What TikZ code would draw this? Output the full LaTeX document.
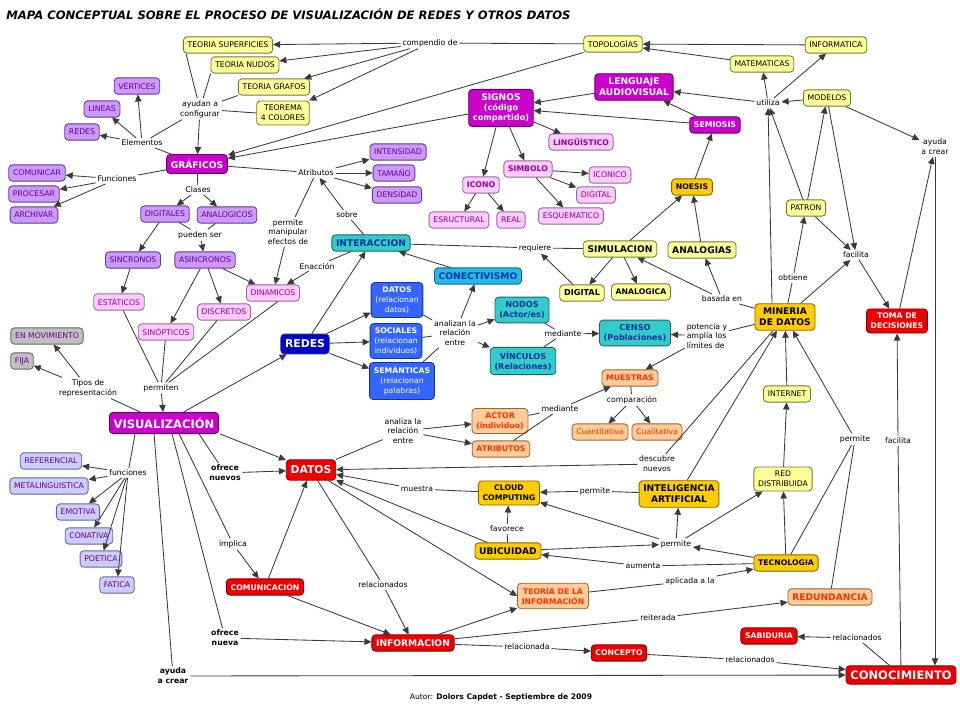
\documentclass[tikz,border=0pt]{standalone}
\usepackage{fontspec}
\setmainfont{DejaVu Sans}
\usepackage{tikz}
\usetikzlibrary{arrows.meta,calc}

\definecolor{cline}{HTML}{3A3A3A}
\definecolor{fyel}{HTML}{FFFF99}\definecolor{byel}{HTML}{77773A}
\definecolor{fmag}{HTML}{CC00CC}\definecolor{bmag}{HTML}{660066}
\definecolor{flav}{HTML}{CC99FF}\definecolor{blav}{HTML}{663399}\definecolor{tlav}{HTML}{660099}
\definecolor{fpnk}{HTML}{FFCCFF}\definecolor{bpnk}{HTML}{996699}\definecolor{tpnk}{HTML}{990099}
\definecolor{fgry}{HTML}{C0C0C0}\definecolor{bgry}{HTML}{666666}
\definecolor{fpbl}{HTML}{CCCCFF}\definecolor{bpbl}{HTML}{666699}
\definecolor{ftea}{HTML}{33CCCC}\definecolor{btea}{HTML}{1A6666}\definecolor{ttea}{HTML}{003399}
\definecolor{fcya}{HTML}{22BBEE}
\definecolor{fblu}{HTML}{3366FF}\definecolor{bblu}{HTML}{1A3399}
\definecolor{fdbl}{HTML}{0000CC}
\definecolor{fred}{HTML}{EE0000}\definecolor{bred}{HTML}{880000}
\definecolor{fpch}{HTML}{FFCC99}\definecolor{bpch}{HTML}{996633}\definecolor{tpch}{HTML}{FF3300}
\definecolor{fgld}{HTML}{FFCC00}\definecolor{bgld}{HTML}{886600}

\newcommand\ftxt{\normalfont\fontsize{5.5}{7}\selectfont}
\newcommand\fbld{\normalfont\fontsize{5.5}{7}\selectfont\bfseries}
\newcommand\fsemi{\normalfont\fontsize{5.8}{7.2}\selectfont\bfseries}
\newcommand\fmid{\normalfont\fontsize{6.5}{8}\selectfont\bfseries}
\newcommand\fbig{\normalfont\fontsize{8.2}{9.5}\selectfont\bfseries}
\newcommand\ftitle{\normalfont\fontsize{8.25}{9.5}\selectfont\bfseries\itshape}

\begin{document}
\begin{tikzpicture}[x=0.025cm,y=-0.025cm,
  cpt/.style={draw, rounded corners=2.5pt, line width=0.6pt, align=center,
    inner xsep=3pt, inner ysep=3pt, minimum height=11.5pt, font=\ftxt},
  yel/.style={cpt, fill=fyel, draw=byel},
  mag/.style={cpt, fill=fmag, draw=bmag, text=white, font=\fmid},
  lav/.style={cpt, fill=flav, draw=blav, text=tlav},
  pnk/.style={cpt, fill=fpnk, draw=bpnk, text=tpnk},
  gry/.style={cpt, fill=fgry, draw=bgry, text=tlav},
  pbl/.style={cpt, fill=fpbl, draw=bpbl, text=tlav},
  tea/.style={cpt, fill=ftea, draw=btea, text=ttea, font=\fsemi},
  cya/.style={cpt, fill=fcya, draw=btea, text=ttea, font=\fmid},
  blu/.style={cpt, fill=fblu, draw=bblu, text=white, font=\fbld},
  dbl/.style={cpt, fill=fdbl, draw=bblu, text=white},
  rdn/.style={cpt, fill=fred, draw=bred, text=white, font=\fbld},
  pch/.style={cpt, fill=fpch, draw=bpch, text=tpch, font=\fbld},
  gld/.style={cpt, fill=fgld, draw=bgld, font=\fbld},
  lnk/.style={font=\ftxt, align=center, inner sep=1.2pt},
  ln/.style={draw=cline, line width=0.6pt},
  ar/.style={ln, -{Triangle[length=5pt,width=4.6pt]}}]

\path[use as bounding box, fill=white] (0,0) rectangle (960,720);

% title and author
\node[anchor=west, inner sep=0pt, font=\ftitle] (title) at (6,14)
  {MAPA CONCEPTUAL SOBRE EL PROCESO DE VISUALIZACIÓN DE REDES Y OTROS DATOS};
\node[font=\normalfont\fontsize{5.4}{6}\selectfont] (autor) at (501,697)
  {Autor: \textbf{Dolors Capdet - Septiembre de 2009}};

% top band
\node[yel] (tsup) at (228,45) {TEORIA SUPERFICIES};
\node[yel] (tnud) at (245,65) {TEORIA NUDOS};
\node[yel] (tgra) at (274,87) {TEORIA GRAFOS};
\node[yel] (tcol) at (283,113) {TEOREMA\\4 COLORES};
\node[lnk] (comp) at (430,43) {compendio de};
\node[yel] (topo) at (613,44) {TOPOLOGÍAS};
\node[yel] (info) at (836,45) {INFORMATICA};
\node[yel] (mate) at (762,64) {MATEMATICAS};
\node[mag] (leng) at (634,87) {LENGUAJE\\AUDIOVISUAL};
\node[mag, font=\fsemi] (sign) at (501,108) {{\fmid SIGNOS}\\(código\\compartido)};
\node[lnk] (util) at (768,103) {utiliza};
\node[yel] (mode) at (827,98) {MODELOS};
\node[mag, font=\fbld] (semi) at (715,125) {SEMIOSIS};
\node[lnk] (ayca) at (935,147) {ayuda\\a crear};

% graficos
\node[lnk] (ayud) at (200,109) {ayudan a\\configurar};
\node[lav] (vert) at (137,86) {VÉRTICES};
\node[lav] (lins) at (102,109) {LINEAS};
\node[lav] (redl) at (82,132) {REDES};
\node[lnk] (elem) at (142,143) {Elementos};
\node[mag, minimum height=13.5pt] (graf) at (197,164) {GRÁFICOS};
\node[lav] (comu) at (37,173) {COMUNICAR};
\node[lav] (proc) at (34,194) {PROCESAR};
\node[lav] (arch) at (34,215) {ARCHIVAR};
\node[lnk] (func) at (117,179) {Funciones};
\node[lnk] (clas) at (198,190) {Clases};
\node[lav] (digi) at (165,214) {DIGITALES};
\node[lav] (anal) at (227,215) {ANALOGICOS};
\node[lnk] (pued) at (200,235) {pueden ser};
\node[lav] (sinc) at (133,260) {SINCRONOS};
\node[lav] (asin) at (205,260) {ASINCRONOS};
\node[pnk] (esta) at (119,302) {ESTÁTICOS};
\node[pnk] (dina) at (273,293) {DINAMICOS};
\node[pnk] (disc) at (224,312) {DISCRETOS};
\node[pnk] (sinp) at (166,332) {SINÓPTICOS};
\node[lnk] (perm) at (288,232) {permite\\manipular\\efectos de};
\node[lnk] (enac) at (317,266) {Enacción};
\node[lnk] (atri) at (316,173) {Atributos};
\node[lav] (inte) at (398,152) {INTENSIDAD};
\node[lav] (tama) at (394,173) {TAMAÑO};
\node[lav] (dens) at (397,195) {DENSIDAD};
\node[lnk] (sobr) at (347,215) {sobre};
\node[tea, font=\fmid] (intr) at (371,243) {INTERACCION};

% signos
\node[pnk, font=\fbld] (ling) at (581,142) {LINGÜÍSTICO};
\node[pnk, font=\fbld] (simb) at (528,169) {SIMBOLO};
\node[pnk] (icoc) at (610,175) {ICONICO};
\node[pnk] (digp) at (596,195) {DIGITAL};
\node[pnk, font=\fbld] (icon) at (481,185) {ICONO};
\node[pnk] (estr) at (459,220) {ESRUCTURAL};
\node[pnk] (real) at (511,220) {REAL};
\node[pnk] (esqu) at (571,216) {ESQUEMATICO};
\node[gld] (noes) at (692,187) {NOESIS};

% simulacion and mineria
\node[yel] (patr) at (806,208) {PATRON};
\node[yel, font=\fmid] (simu) at (620,249) {SIMULACION};
\node[yel, font=\fmid] (anag) at (702,250) {ANALOGIAS};
\node[yel, font=\fsemi] (digy) at (582,293) {DIGITAL};
\node[yel, font=\fbld] (anay) at (641,292) {ANALOGICA};
\node[lnk] (requ) at (535,248) {requiere};
\node[lnk] (faci) at (856,255) {facilita};
\node[lnk] (obti) at (793,278) {obtiene};
\node[lnk] (basa) at (722,299) {basada en};
\node[gld, font=\fmid] (mine) at (785,317) {MINERIA\\DE DATOS};
\node[rdn] (toma) at (897,321) {TOMA DE\\DECISIONES};
\node[lnk, align=left] (pote) at (707,336) {potencia y\\amplía los\\límites de};
\node[tea] (cens) at (635,333) {CENSO\\(Poblaciones)};

% redes
\node[cya] (cone) at (478,276) {CONECTIVISMO};
\node[blu] (datb) at (397,300) {DATOS\\{\ftxt(relacionan}\\{\ftxt datos)}};
\node[blu] (soci) at (396,341) {SOCIALES\\{\ftxt(relacionan}\\{\ftxt individuos)}};
\node[blu] (sema) at (402,381) {SEMÁNTICAS\\{\ftxt(relacionan}\\{\ftxt palabras)}};
\node[lnk] (anlz) at (455,333) {analizan la\\relación\\entre};
\node[tea] (nodo) at (522,310) {NODOS\\(Actor/es)};
\node[tea] (vinc) at (523,361) {VÍNCULOS\\(Relaciones)};
\node[lnk] (medu) at (563,334) {mediante};
\node[pch] (mues) at (630,378) {MUESTRAS};
\node[lnk] (comr) at (632,400) {comparación};
\node[pch, font=\ftxt] (cuan) at (600,432) {Cuantitativa};
\node[pch, font=\ftxt] (cual) at (657,432) {Cualitativa};
\node[lnk] (medl) at (560,409) {mediante};
\node[pch] (acto) at (500,421) {ACTOR\\(individuo)};
\node[pch] (atrb) at (501,449) {ATRIBUTOS};
\node[lnk] (anla) at (403,431) {analiza la\\relación\\entre};
\node[yel] (intn) at (787,394) {INTERNET};
\node[lnk] (desc) at (657,464) {descubre\\nuevos};
\node[dbl, font=\normalfont\fontsize{7.7}{9}\selectfont\bfseries, minimum height=14pt] (redb) at (305,344) {REDES};

% visualizacion
\node[gry] (movi) at (47,336) {EN MOVIMIENTO};
\node[gry] (fija) at (22,361) {FIJA};
\node[lnk] (tipo) at (88,388) {Tipos de\\representación};
\node[lnk] (pmtn) at (161,388) {permiten};
\node[mag, font=\fbig, minimum height=15pt] (visu) at (164,423) {VISUALIZACIÓN};
\node[rdn, font=\normalfont\fontsize{7.7}{9}\selectfont\bfseries, minimum height=14.5pt] (datr) at (311,470) {DATOS};
\node[lnk, font=\fbld] (ofnu) at (225,473) {ofrece\\nuevos};
\node[pbl] (refe) at (51,461) {REFERENCIAL};
\node[pbl] (meta) at (49,486) {METALINGUISTICA};
\node[pbl] (emot) at (78,512) {EMOTIVA};
\node[pbl] (cona) at (89,536) {CONATIVA};
\node[pbl] (poet) at (101,559) {POETICA};
\node[pbl] (fati) at (117,585) {FATICA};
\node[lnk] (funs) at (128,473) {funciones};
\node[lnk] (impl) at (233,544) {implica};
\node[rdn] (comn) at (265,587) {COMUNICACIÓN};
\node[lnk, font=\fbld] (ofna) at (225,638) {ofrece\\nueva};
\node[lnk, font=\fbld] (aycb) at (173,676) {ayuda\\a crear};
\node[lnk] (rels) at (383,585) {relacionados};
\node[rdn, font=\fmid] (infm) at (413,643) {INFORMACION};

% tecnologia
\node[gld] (clou) at (509,493) {CLOUD\\COMPUTING};
\node[lnk] (mstr) at (417,489) {muestra};
\node[lnk] (favo) at (507,529) {favorece};
\node[gld, font=\fmid] (ubic) at (508,551) {UBICUIDAD};
\node[pch] (teor) at (553,596) {TEORÍA DE LA\\INFORMACIÓN};
\node[lnk] (relc) at (527,647) {relacionada};
\node[rdn] (conc) at (619,653) {CONCEPTO};
\node[lnk] (pcc) at (595,491) {permite};
\node[gld, font=\fmid] (inta) at (679,494) {INTELIGENCIA\\ARTIFICIAL};
\node[yel] (redd) at (783,479) {RED\\DISTRIBUIDA};
\node[lnk] (pmid) at (676,544) {permite};
\node[lnk] (aume) at (643,566) {aumenta};
\node[gld] (tecn) at (786,563) {TECNOLOGIA};
\node[lnk] (apli) at (690,581) {aplicada a la};
\node[pch, font=\fmid] (redu) at (830,597) {REDUNDANCIA};
\node[lnk] (reit) at (658,618) {reiterada};
\node[rdn] (sabi) at (769,636) {SABIDURIA};
\node[lnk] (relr) at (857,638) {relacionados};
\node[lnk] (relb) at (750,660) {relacionados};
\node[rdn, font=\fbig, minimum height=13pt] (cono) at (901,675) {CONOCIMIENTO};
\node[lnk] (prig) at (855,439) {permite};
\node[lnk] (facb) at (898,441) {facilita};

% connectors: top band
\draw[ln] (topo) -- (comp);
\draw[ar] (comp) -- (tsup);
\draw[ar] (comp) -- (tnud);
\draw[ar] (comp) -- (tgra);
\draw[ar] (comp) -- (tcol);
\draw[ar] (info) -- (topo);
\draw[ar] (mate) -- (topo);
\draw[ar] (topo) -- (graf);
\draw[ar] (sign) -- (graf);
\draw[ln] ($(tsup.south west)+(3,0)$) -- (ayud);
\draw[ln] (tnud.south west) -- (ayud);
\draw[ln] (tgra.south west) -- (ayud);
\draw[ln] (tcol.west) -- (ayud);
\draw[ar] (ayud) -- (graf);
\draw[ln] (elem) -- (ayud);

% graficos
\draw[ln] (graf) -- (elem);
\draw[ar] (elem) -- (vert);
\draw[ar] (elem) -- (lins);
\draw[ar] (elem) -- (redl);
\draw[ln] (graf) -- (func);
\draw[ar] (func) -- (comu);
\draw[ar] (func) -- (proc);
\draw[ar] (func) -- (arch);
\draw[ln] (graf) -- (clas);
\draw[ar] (clas) -- (digi);
\draw[ar] (clas) -- (anal);
\draw[ln] (digi) -- (pued);
\draw[ln] (anal) -- (pued);
\draw[ar] (pued) -- (asin);
\draw[ar] (digi) -- (sinc);
\draw[ar] (sinc) -- (esta);
\draw[ar] (asin) -- (sinp);
\draw[ar] (asin) -- (disc);
\draw[ar] (asin) -- (dina);
\draw[ln] (graf) -- (atri);
\draw[ar] (atri) -- (inte);
\draw[ar] (atri) -- (tama);
\draw[ar] (atri) -- (dens);
\draw[ln] (atri) -- (perm);
\draw[ar] (perm) -- (dina);
\draw[ln] (intr) -- (sobr);
\draw[ar] (sobr) -- (atri);
\draw[ln] (intr) -- (enac);
\draw[ar] (enac) -- (dina);
\draw[ln] (esta) -- (pmtn);
\draw[ln] (sinp) -- (pmtn);
\draw[ln] (disc) -- (pmtn);
\draw[ln] (dina.-60) -- (pmtn);
\draw[ar] (pmtn) -- (visu);

% visualizacion
\draw[ln] (visu) -- (tipo);
\draw[ar] (tipo) -- (movi);
\draw[ar] (tipo) -- (fija);
\draw[ar] (visu) -- (redb);
\draw[ar] ($(visu.south west)+(111,0)$) -- (datr);
\draw[ln] ($(visu.south west)+(90,0)$) -- (ofnu);
\draw[ar] (ofnu) -- (datr);
\draw[ln] ($(visu.south west)+(26,0)$) -- (funs);
\draw[ar] (funs) -- (refe);
\draw[ar] (funs) -- (meta);
\draw[ar] (funs) -- (emot);
\draw[ar] (funs) -- (cona);
\draw[ar] (funs) -- (poet);
\draw[ar] (funs) -- (fati);
\draw[ln] ($(visu.south west)+(70,0)$) -- (impl);
\draw[ar] (impl) -- (comn);
\draw[ln] ($(visu.south west)+(63,0)$) -- (ofna);
\draw[ar] (ofna) -- (infm);
\draw[ln] ($(visu.south west)+(45,0)$) -- (aycb);
\draw[ar] (aycb) -- (cono);
\draw[ar] (comn) -- (datr);
\draw[ar] (comn) -- (infm);
\draw[ln] (datr) -- (rels);
\draw[ar] (rels) -- (infm);

% redes
\draw[ar] (redb) -- (intr);
\draw[ar] (redb) -- (datb);
\draw[ar] (redb) -- (soci);
\draw[ar] (redb) -- (sema);
\draw[ar] (cone) -- (intr);
\draw[ln] (datb) -- (anlz);
\draw[ln] (soci) -- (anlz);
\draw[ln] (sema) -- (anlz);
\draw[ar] (anlz) -- (nodo);
\draw[ar] (anlz) -- (vinc);
\draw[ar] (anlz) -- (cone);
\draw[ln] (nodo) -- (medu);
\draw[ln] (vinc) -- (medu);
\draw[ar] (medu) -- (cens);

% signos and simulacion
\draw[ln] (intr) -- (requ);
\draw[ln] (requ) -- (simu);
\draw[ar] (digy) -- (requ);
\draw[ar] (simu) -- (digy);
\draw[ar] (simu) -- (anay);
\draw[ar] (simu) -- (noes);
\draw[ar] (anag) -- (noes);
\draw[ar] (noes) -- (semi);
\draw[ar] (semi) -- (leng);
\draw[ar] (semi) -- (sign);
\draw[ar] (leng) -- (sign);
\draw[ar] (sign) -- (ling);
\draw[ar] (sign) -- (icon);
\draw[ar] (sign) -- (simb);
\draw[ar] (icon) -- (estr);
\draw[ar] (icon) -- (real);
\draw[ar] (simb) -- (icoc);
\draw[ar] (simb) -- (digp);
\draw[ar] (simb) -- (esqu);

% mineria
\draw[ar] (mode) -- (util);
\draw[ar] (util) -- (leng);
\draw[ar] (util) -- (mate);
\draw[ar] (util) -- (info);
\draw[ar] ($(mine.north)+(-13,0)$) -- (util);
\draw[ar] (patr) -- (util);
\draw[ar] (patr) -- (mode);
\draw[ar] (mode) -- (ayca);
\draw[ar] (toma) -- (ayca);
\draw[ar] (ayca) -- (ayca |- cono.north);
\draw[ar] (mode) -- (faci);
\draw[ar] (patr) -- (faci);
\draw[ar] (mine) -- (faci);
\draw[ar] (faci) -- (toma);
\draw[ln] (mine) -- (obti);
\draw[ar] (obti) -- (patr);
\draw[ln] (mine) -- (basa);
\draw[ar] (basa) -- (simu);
\draw[ar] (basa) -- (anag);
\draw[ln] (mine) -- (pote);
\draw[ar] (pote) -- (cens);
\draw[ar] (pote) -- (mues);
\draw[ln] (acto) -- (medl);
\draw[ln] (atrb) -- (medl);
\draw[ar] (medl) -- (mues);
\draw[ln] (mues) -- (comr);
\draw[ar] (comr) -- (cuan);
\draw[ar] (comr) -- (cual);
\draw[ln] (datr) -- (anla);
\draw[ar] (anla) -- (acto);
\draw[ar] (anla) -- (atrb);
\draw[ln] (mine) -- (desc);
\draw[ar] (desc) -- (datr);

% tecnologia
\draw[ar] (datr) -- (teor.west);
\draw[ar] (infm) -- (teor);
\draw[ar] (ubic) -- (datr);
\draw[ln] (clou) -- (mstr);
\draw[ar] (mstr) -- (datr);
\draw[ln] (ubic) -- (favo);
\draw[ar] (favo) -- (clou);
\draw[ln] (inta) -- (pcc);
\draw[ar] (pcc) -- (clou);
\draw[ar] (inta) -- (mine);
\draw[ar] (ubic) -- (pmid);
\draw[ar] (tecn) -- (pmid);
\draw[ar] (pmid) -- (inta);
\draw[ar] (pmid) -- (redd);
\draw[ar] (pmid) -- (clou);
\draw[ln] (tecn) -- (aume);
\draw[ar] (aume) -- (ubic);
\draw[ln] (teor) -- (apli);
\draw[ar] (apli) -- (tecn);
\draw[ln] (infm) -- (reit);
\draw[ar] (reit) -- (redu);
\draw[ln] (infm) -- (relc);
\draw[ar] (relc) -- (conc);
\draw[ln] (conc) -- (relb);
\draw[ar] (relb) -- (cono);
\draw[ln] (cono) -- (relr);
\draw[ar] (relr) -- (sabi);
\draw[ln] (cono) -- (facb);
\draw[ar] (facb) -- (toma);
\draw[ln] (tecn) -- (prig);
\draw[ln] (redu) -- (prig);
\draw[ar] (prig) -- (mine);
\draw[ar] (tecn) -- (redd);
\draw[ar] (redd) -- (intn);
\draw[ar] (intn) -- (mine);
\end{tikzpicture}
\end{document}
